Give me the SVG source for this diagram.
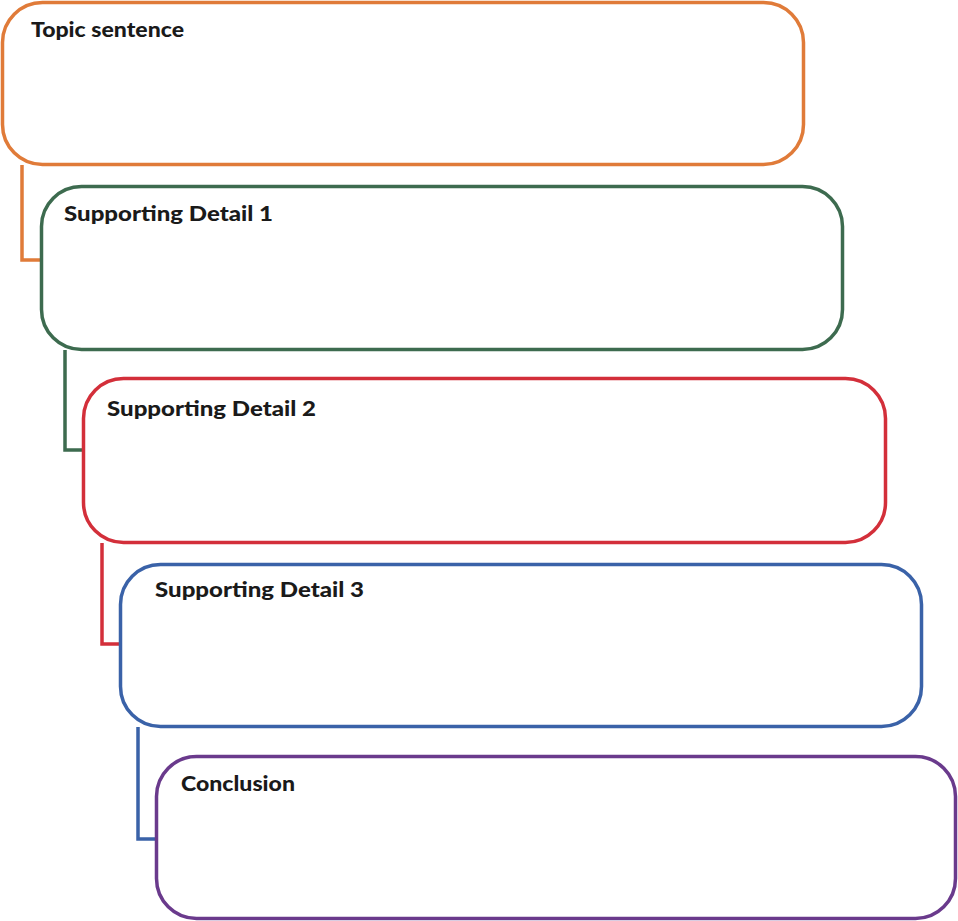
<svg xmlns="http://www.w3.org/2000/svg" width="958" height="921" viewBox="0 0 958 921">
<style>
.b{fill:#fff;stroke-width:3.5}
.c{fill:none;stroke-width:3.5}
text{font-family:Lato,"Liberation Sans",sans-serif;font-weight:900;font-size:21px;fill:#1a1a1a}
</style>
<rect width="958" height="921" fill="#fff"/>
<g id="connectors">
<polyline class="c" stroke="#e07b39" points="22,165 22,260 41,260"/>
<polyline class="c" stroke="#3d6b4f" points="65,350 65,450 83,450"/>
<polyline class="c" stroke="#d32f3a" points="102,543 102,644 120,644"/>
<polyline class="c" stroke="#3a62a8" points="138,727 138,839 156,839"/>
</g>
<g id="topic"><rect class="b" stroke="#e07b39" x="2.5" y="2.5" width="801" height="162" rx="40"/><text x="31" y="37" textLength="153" lengthAdjust="spacingAndGlyphs">Topic sentence</text></g>
<g id="detail1"><rect class="b" stroke="#3d6b4f" x="41.5" y="186.5" width="801" height="163" rx="40"/><text x="64" y="221" textLength="209" lengthAdjust="spacingAndGlyphs">Supporting Detail 1</text></g>
<g id="detail2"><rect class="b" stroke="#d32f3a" x="83.5" y="378.5" width="802" height="164" rx="40"/><text x="107" y="416" textLength="209" lengthAdjust="spacingAndGlyphs">Supporting Detail 2</text></g>
<g id="detail3"><rect class="b" stroke="#3a62a8" x="120.5" y="564.5" width="801" height="162" rx="40"/><text x="155" y="597" textLength="209" lengthAdjust="spacingAndGlyphs">Supporting Detail 3</text></g>
<g id="conclusion"><rect class="b" stroke="#6a3a8c" x="156.5" y="756.5" width="799" height="162" rx="40"/><text x="181" y="791" textLength="114" lengthAdjust="spacingAndGlyphs">Conclusion</text></g>
</svg>
